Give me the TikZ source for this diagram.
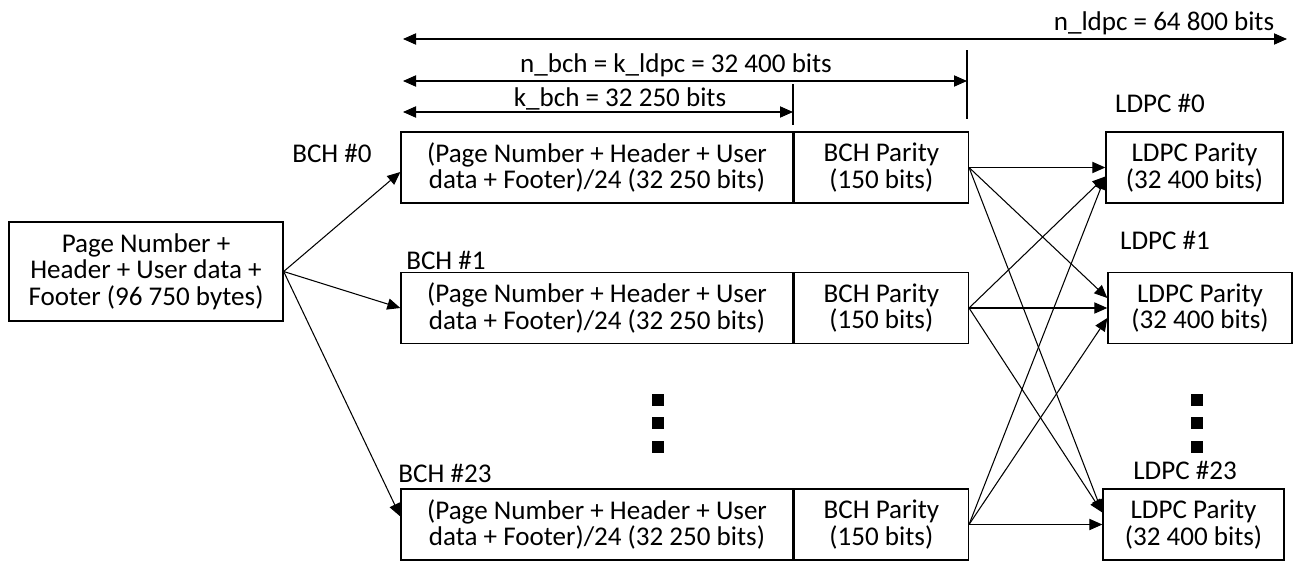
\documentclass[tikz,border=0pt]{standalone}
\usepackage{fontspec}
\setmainfont{Carlito}
\usetikzlibrary{arrows.meta,positioning,calc}

\begin{document}
\begin{tikzpicture}[x=0.02cm,y=-0.02cm,>={Triangle[length=7.4pt,width=6.4pt]},
    every node/.style={font=\fontsize{15.4}{15.2}\selectfont},
    blk/.style={draw,line width=0.8pt,align=center,inner sep=0pt,minimum height=1.42cm},
    lnk/.style={->,line width=0.6pt},
    sq/.style={fill=black,inner sep=0pt,minimum size=0.24cm}]
  \useasboundingbox (0,0) rectangle (1301,561);
  % source data
  \node[blk,minimum width=5.48cm,minimum height=1.98cm] (src) at (146,271.5) {Page Number +\\Header + User data +\\Footer (96 750 bytes)};
  % BCH codewords
  \node[blk,minimum width=7.84cm] (data0) at (597,167.5) {(Page Number + Header + User\\data + Footer)/24 (32 250 bits)};
  \node[blk,minimum width=3.48cm,right=0pt of data0] (par0) {BCH Parity\\(150 bits)};
  \node[blk,minimum width=7.84cm] (data1) at (597,308) {(Page Number + Header + User\\data + Footer)/24 (32 250 bits)};
  \node[blk,minimum width=3.48cm,right=0pt of data1] (par1) {BCH Parity\\(150 bits)};
  \node[blk,minimum width=7.84cm] (data23) at (597,524.5) {(Page Number + Header + User\\data + Footer)/24 (32 250 bits)};
  \node[blk,minimum width=3.48cm,right=0pt of data23] (par23) {BCH Parity\\(150 bits)};
  \node (lb0) at (332,153) {BCH \#0};
  \node (lb1) at (446,260) {BCH \#1};
  \node (lb23) at (445,473) {BCH \#23};
  % LDPC codewords
  \node[blk,minimum width=3.54cm] (ldpc0) at (1194.5,167.5) {LDPC Parity\\(32 400 bits)};
  \node[blk,minimum width=3.68cm] (ldpc1) at (1200,308) {LDPC Parity\\(32 400 bits)};
  \node[blk,minimum width=3.62cm] (ldpc23) at (1193.5,524.5) {LDPC Parity\\(32 400 bits)};
  \node (ll0) at (1160,103) {LDPC \#0};
  \node (ll1) at (1165,240) {LDPC \#1};
  \node (ll23) at (1185,470) {LDPC \#23};
  % dots
  \foreach \y/\k in {400/1,423/2,447/3}{
    \node[sq] (bdot\k) at (658,\y) {};
    \node[sq] (ldot\k) at (1197,\y) {};
  }
  % lengths
  \coordinate (nl0) at (403,39); \coordinate (nl1) at (1287,39);
  \coordinate (nb0) at (403,81); \coordinate (nb1) at (967,81);
  \coordinate (kb0) at (403,112); \coordinate (kb1) at (793,112);
  \draw[<->,line width=0.6pt] (nl0) -- (nl1);
  \draw[<->,line width=0.6pt] (nb0) -- (nb1);
  \draw[<->,line width=0.6pt] (kb0) -- (kb1);
  \draw[line width=0.6pt] (793,84) -- (793,125);
  \draw[line width=0.6pt] (967,50) -- (967,119);
  \node (tnl) at (1164,23) {n\_ldpc = 64 800 bits};
  \node (tnb) at (676,65) {n\_bch = k\_ldpc = 32 400 bits};
  \node (tkb) at (620,99) {k\_bch = 32 250 bits};
  % split
  \draw[lnk] (src.east) -- ([yshift=-0.09cm]data0.west);
  \draw[lnk] (src.east) -- (data1.west);
  \draw[lnk] (src.east) -- ([yshift=0.16cm]data23.west);
  % parity to LDPC
  \draw[lnk] (par0.east) -- (ldpc0.west);
  \draw[lnk] (par0.east) -- ([yshift=0.2cm]ldpc1.west);
  \draw[lnk] (par0.east) -- ([yshift=0.24cm]ldpc23.west);
  \draw[lnk] (par1.east) -- ([yshift=-0.18cm]ldpc0.west);
  \draw[lnk] (par1.east) -- (ldpc1.west);
  \draw[lnk] (par1.east) -- ([yshift=0.24cm]ldpc23.west);
  \draw[lnk] (par23.east) -- ([yshift=-0.18cm]ldpc0.west);
  \draw[lnk] (par23.east) -- ([yshift=-0.2cm]ldpc1.west);
  \draw[lnk] (par23.east) -- (ldpc23.west);
\end{tikzpicture}
\end{document}
